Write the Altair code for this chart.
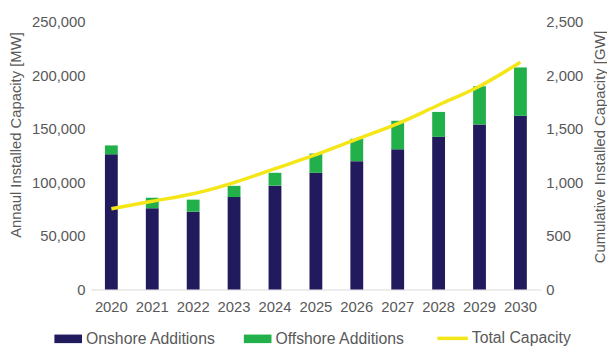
import altair as alt
import pandas as pd

years = ["2020", "2021", "2022", "2023", "2024", "2025", "2026", "2027", "2028", "2029", "2030"]
onshore_mw = [126400, 76000, 72700, 86400, 97100, 109100, 120000, 131000, 142700, 154300, 162400]
offshore_mw = [8300, 9700, 11300, 10500, 12000, 18000, 20900, 26700, 23300, 35700, 45200]
total_gw = [755, 825, 895, 1000, 1130, 1260, 1405, 1550, 1725, 1900, 2125]

left_ticks = [0, 50000, 100000, 150000, 200000, 250000]
right_ticks = [0, 500, 1000, 1500, 2000, 2500]

NAVY = "#211b5e"
GREEN = "#22b04b"
YELLOW = "#f5e618"
GREY = "#595959"
FONT = "Liberation Sans"

df_bar = pd.DataFrame({
    "year": years * 2,
    "type": ["Onshore Additions"] * len(years) + ["Offshore Additions"] * len(years),
    "mw": onshore_mw + offshore_mw,
    "ord": [0] * len(years) + [1] * len(years),
})
df_line = pd.DataFrame({"year": years, "gw": total_gw, "series": ["Total Capacity"] * len(years)})

x_enc = alt.X(
    "year:O", title=None,
    scale=alt.Scale(paddingInner=0, paddingOuter=0),
    axis=alt.Axis(labelAngle=0, labelFont=FONT, labelFontSize=15, labelColor=GREY,
                  labelPadding=10, ticks=False, tickSize=0, domainColor="#d9d9d9", domainWidth=1),
)

bars = alt.Chart(df_bar).mark_bar(size=13).encode(
    x=x_enc,
    y=alt.Y(
        "mw:Q", stack="zero",
        scale=alt.Scale(domain=[0, 250000], nice=False),
        axis=alt.Axis(values=left_ticks, format=",d", title="Annaul Installed Capacity [MW]",
                      grid=False, domain=False, ticks=False, tickSize=0, labelPadding=6,
                      labelFont=FONT, labelFontSize=15, labelColor=GREY,
                      titleFont=FONT, titleFontSize=15, titleFontWeight="normal", titleColor=GREY,
                      titleX=-76.5, titleY=114, titleBaseline="middle"),
    ),
    fill=alt.Fill(
        "type:N",
        scale=alt.Scale(domain=["Onshore Additions", "Offshore Additions"], range=[NAVY, GREEN]),
        legend=alt.Legend(orient="none", legendX=-37, legendY=307, direction="horizontal",
                          title=None, symbolType="M-1,-0.31L1,-0.31L1,0.31L-1,0.31Z", symbolSize=784,
                          symbolStrokeWidth=0, labelFont=FONT, labelFontSize=16, labelColor=GREY,
                          labelOffset=4, columnPadding=28, padding=0),
    ),
    order=alt.Order("ord:Q"),
)

line = alt.Chart(df_line).mark_line(strokeWidth=3.5, interpolate="monotone").encode(
    x=x_enc,
    y=alt.Y(
        "gw:Q",
        scale=alt.Scale(domain=[0, 2500], nice=False),
        axis=alt.Axis(orient="right", values=right_ticks, format=",d",
                      title="Cumulative Installed Capacity [GW]",
                      grid=False, domain=False, ticks=False, tickSize=0, labelPadding=5,
                      labelFont=FONT, labelFontSize=15, labelColor=GREY,
                      titleFont=FONT, titleFontSize=15, titleFontWeight="normal", titleColor=GREY,
                      titleAngle=270, titleX=59, titleY=126, titleBaseline="middle"),
    ),
    stroke=alt.Stroke(
        "series:N",
        scale=alt.Scale(domain=["Total Capacity"], range=[YELLOW]),
        legend=alt.Legend(orient="none", legendX=349, legendY=303, direction="horizontal",
                          title=None, symbolType="stroke", symbolSize=961, symbolStrokeWidth=3.5,
                          labelFont=FONT, labelFontSize=16, labelColor=GREY,
                          labelOffset=2, padding=0),
    ),
)

chart = alt.layer(bars, line).resolve_scale(y="independent", fill="independent", stroke="independent").properties(
    width=456, height=271,
    padding={"left": 84, "top": 12, "right": 67, "bottom": 55},
    autosize=alt.AutoSizeParams(type="none"),
).configure_view(stroke=None)

chart.save("out.html", embed_options={"renderer": "svg", "actions": False})
